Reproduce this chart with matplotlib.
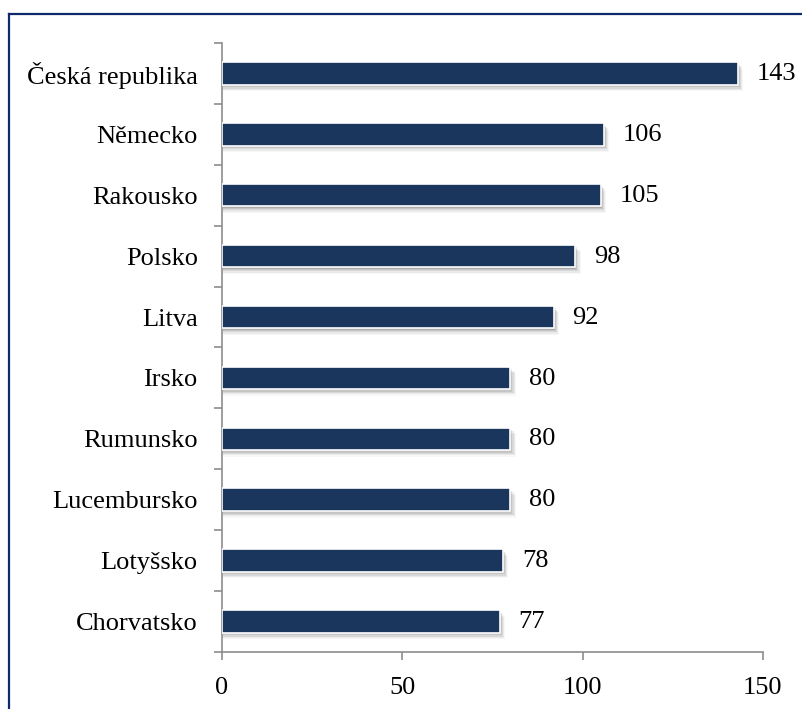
import matplotlib
matplotlib.use("Agg")
import matplotlib.pyplot as plt
from matplotlib.lines import Line2D
from matplotlib.patches import Rectangle

countries = ["Česká republika", "Německo", "Rakousko", "Polsko", "Litva",
             "Irsko", "Rumunsko", "Lucembursko", "Lotyšsko", "Chorvatsko"]
values = [143, 106, 105, 98, 92, 80, 80, 80, 78, 77]
xticks = [0, 50, 100, 150]

plt.rcParams["font.family"] = ["Liberation Serif", "DejaVu Serif"]

fig = plt.figure(figsize=(8.03, 7.09), dpi=100)
ax = fig.add_axes([0.2765, 0.0804, 0.950 - 0.2765, 0.9394 - 0.0804])

n = len(countries)
ypos = list(range(n))[::-1]
bar_h = 0.37
bar_color = "#1b365d"

# soft drop shadow under each bar
for y, v in zip(ypos, values):
    for k, a in enumerate([0.12, 0.09, 0.07, 0.05, 0.03]):
        dy = 0.02 + 0.022 * k
        dx = 0.25 + 0.3 * k
        ax.add_patch(Rectangle((0.2, y - bar_h / 2 - dy), v + dx - 0.2, bar_h,
                               facecolor="black", alpha=a, edgecolor="none",
                               zorder=1, clip_on=False))

ax.barh(ypos, values, height=bar_h, color=bar_color, edgecolor="white",
        linewidth=1.2, zorder=3)

for y, v in zip(ypos, values):
    ax.text(v + 5.2, y - 0.01, str(v), va="center", ha="left", fontsize=19,
            color="black", zorder=4)

ax.set_xlim(0, 150)
ax.set_ylim(-0.5, n - 0.5)
ax.set_xticks(xticks)
ax.set_xticklabels([str(t) for t in xticks], fontsize=19)
ax.set_yticks(ypos)
ax.set_yticklabels(countries, fontsize=19)
ax.set_yticks([i - 0.5 for i in range(n + 1)], minor=True)
ax.tick_params(axis="y", which="major", length=0, pad=17.5)
ax.tick_params(axis="y", which="minor", length=6, width=1.2, color="#8c8c8c")
ax.tick_params(axis="x", which="major", length=6, width=1.2, color="#8c8c8c", pad=12)

for s in ["top", "right"]:
    ax.spines[s].set_visible(False)
for s in ["left", "bottom"]:
    ax.spines[s].set_color("#8c8c8c")
    ax.spines[s].set_linewidth(1.2)

# frame lines along the top and left of the figure
border = "#0f2a6b"
fig.add_artist(Line2D([9 / 803, 1.0], [1 - 14 / 709, 1 - 14 / 709],
                      transform=fig.transFigure, color=border, linewidth=1.6))
fig.add_artist(Line2D([9 / 803, 9 / 803], [1 - 14 / 709, 0.0],
                      transform=fig.transFigure, color=border, linewidth=1.6))

fig.savefig("out.png", dpi=100)
